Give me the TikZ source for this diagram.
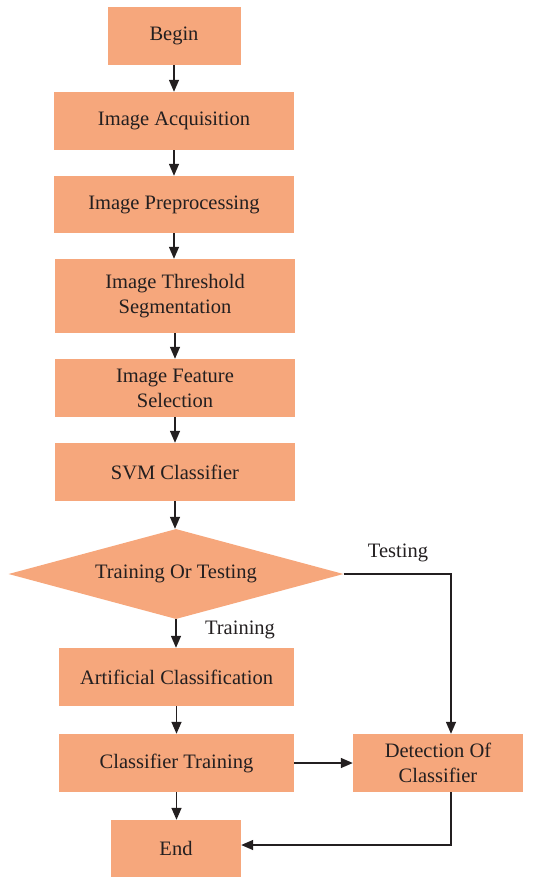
\documentclass[tikz,border=0pt]{standalone}
\usepackage{fontspec}
\setmainfont{Liberation Serif}
\usetikzlibrary{shapes.geometric,arrows.meta}

\definecolor{salmon}{HTML}{F6A77C}
\definecolor{ink}{HTML}{231F20}

\tikzset{
  box/.style={rectangle,fill=salmon,align=center,inner sep=0pt,
    font=\fontsize{20.5}{25}\selectfont,text=ink},
  choice/.style={diamond,fill=salmon,inner sep=0pt,aspect=3.7,
    font=\fontsize{20.5}{25}\selectfont,text=ink},
  arr/.style={ink,line width=1.4pt,-{Triangle[length=12pt,width=10pt]}},
  tag/.style={font=\fontsize{20.5}{25}\selectfont,text=ink}
}

\begin{document}
\begin{tikzpicture}[x=1pt,y=-1pt]
    % marco de la figura
    \useasboundingbox (0,0) rectangle (533,878);

    % cajas de la columna principal
    \node[box,minimum width=133pt,minimum height=58pt] (begin) at (174,36) {Begin};
    \node[box,minimum width=240pt,minimum height=58pt] (acq) at (174,121) {Image Acquisition};
    \node[box,minimum width=240pt,minimum height=57pt] (prep) at (174,204.5) {Image Preprocessing};
    \node[box,minimum width=240pt,minimum height=74pt] (thresh) at (175,296) {Image Threshold\\Segmentation};
    \node[box,minimum width=240pt,minimum height=58pt] (feat) at (175,388) {Image Feature\\Selection};
    \node[box,minimum width=240pt,minimum height=58pt] (svm) at (175,472) {SVM Classifier};

    % decision
    \node[choice,minimum width=335pt,minimum height=90pt] (dec) at (176,574) {Training Or Testing};

    \node[box,minimum width=235pt,minimum height=58pt] (art) at (176.5,677) {Artificial Classification};
    \node[box,minimum width=235pt,minimum height=58pt] (train) at (176.5,763) {Classifier Training};
    \node[box,minimum width=170pt,minimum height=58pt] (det) at (438,763) {Detection Of\\Classifier};
    \node[box,minimum width=130pt,minimum height=57pt] (end) at (176,848.5) {End};

    % etiquetas de las ramas
    \node[tag] (testing) at (398,553) {Testing};
    \node[tag] (training) at (240,630) {Training};

    \coordinate (turn) at ([xshift=13pt]det.north);

    % flechas
    \draw[arr] (begin) -- (acq);
    \draw[arr] (acq) -- (prep);
    \draw[arr] (prep.south) -- (prep.south |- thresh.north);
    \draw[arr] (thresh) -- (feat);
    \draw[arr] (feat) -- (svm);
    \draw[arr] (svm.south) -- (svm.south |- dec.north);
    \draw[arr] (dec.south) -- (dec.south |- art.north);
    \draw[arr] (art) -- (train);
    \draw[arr] (train.south) -- (train.south |- end.north);
    \draw[arr] (train) -- (det);
    \draw[arr] (dec.east) -| (turn);
    \draw[arr] (turn |- det.south) |- ([yshift=3.5pt]end.east);
\end{tikzpicture}
\end{document}
